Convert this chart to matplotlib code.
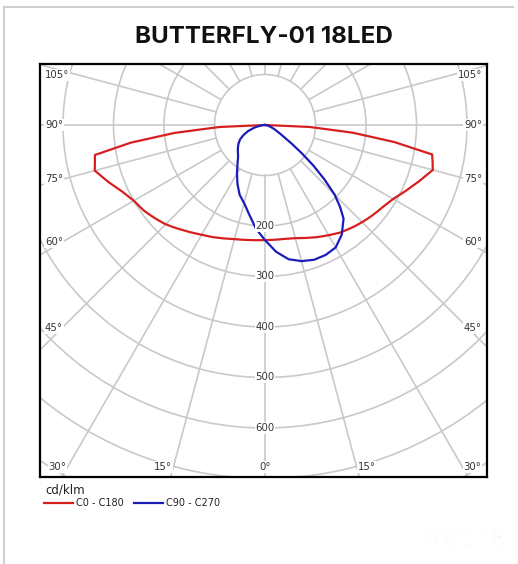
import numpy as np
import matplotlib
matplotlib.use("Agg")
import matplotlib.pyplot as plt
from matplotlib.patches import Circle
from matplotlib.lines import Line2D

# ---------------- data ----------------
title = "BUTTERFLY-01 18LED"
unit_label = "cd/klm"
series_names = ["C0 - C180", "C90 - C270"]
gamma_deg = [0, 5, 10, 15, 20, 25, 30, 35, 40, 42.5, 45, 47.5, 50, 52.5, 55,
             60, 65, 70, 75, 77.5, 80, 82.5, 85, 87.5, 90]
# red plane: C0 (right half) and C180 (left half), cd/klm
c0 = [228, 228, 229, 232, 238, 245, 252, 260, 266, 269, 272, 275, 278, 281, 284,
      293, 308, 325, 344, 340, 336, 258, 174, 88, 0]
c180 = [228, 229, 231, 234, 239, 245, 251, 259, 268, 273, 278, 282, 286, 290, 294,
        300, 312, 330, 349, 345, 342, 268, 180, 90, 0]
# blue plane: C90 (right half) and C270 (left half)
c90 = [228, 252, 270, 279, 284, 284, 280, 265, 242, 220, 195, 160, 125, 92, 65,
       35, 22, 14, 8, 6, 4, 3, 1, 0.5, 0]
c270 = [228, 206, 180, 160, 147, 129, 111, 95, 83, 79, 76, 73, 70, 67, 64,
        57, 47, 36, 24, 18, 12, 8, 5, 2, 0]
ring_values = [100, 200, 300, 400, 500, 600, 700, 800, 900, 1000]
ring_labels = [200, 300, 400, 500, 600]
spoke_angles = list(range(0, 360, 15))
side_angle_labels = [105, 90, 75, 60, 45]
bottom_angle_labels = [30, 15, 0]

# ---------------- layout ----------------
W, H = 518, 564
fig = plt.figure(figsize=(W / 100, H / 100), dpi=100)
fig.patch.set_facecolor("white")

def fx(px):
    return px / W

def fy(py):
    return 1 - py / H

# outer light frame
fig.add_artist(Line2D([fx(4), fx(4)], [fy(7), fy(564)], color="#cfcfcf", lw=1.5))
fig.add_artist(Line2D([fx(4), fx(513)], [fy(7), fy(7)], color="#cfcfcf", lw=1.5))

box_l, box_r, box_t, box_b = 40, 487, 64, 477
cx, cy = 265, 125
S = 0.505  # px per cd/klm
ax = fig.add_axes([fx(box_l), fy(box_b), (box_r - box_l) / W, (box_b - box_t) / H])
ax.set_xlim((box_l - cx) / S, (box_r - cx) / S)
ax.set_ylim(-(box_b - cy) / S, (cy - box_t) / S)
ax.set_xticks([])
ax.set_yticks([])
for sp in ax.spines.values():
    sp.set_color("black")
    sp.set_linewidth(1.6)

grid_c = "#c9c9c9"
for r in ring_values:
    ax.add_patch(Circle((0, 0), r, fill=False, edgecolor=grid_c, lw=1.2, zorder=1))
for a in spoke_angles:
    t = np.deg2rad(a)
    ax.plot([100 * np.sin(t), 1500 * np.sin(t)], [-100 * np.cos(t), -1500 * np.cos(t)],
            color=grid_c, lw=1.2, zorder=1)

g = np.deg2rad(np.array(gamma_deg))

def half_curve(vals_left, vals_right):
    vl = np.array(vals_left, float)
    vr = np.array(vals_right, float)
    xl = -vl * np.sin(g)
    yl = -vl * np.cos(g)
    xr = vr * np.sin(g)
    yr = -vr * np.cos(g)
    x = np.concatenate([xl[::-1], xr[1:]])
    y = np.concatenate([yl[::-1], yr[1:]])
    return x, y

xr_, yr_ = half_curve(c180, c0)
xb_, yb_ = half_curve(c270, c90)
red = "#d81f1f"
blue = "#1c1cb8"
ax.plot(xr_, yr_, color=red, lw=1.6, zorder=3, solid_joinstyle="miter")
ax.plot(xb_, yb_, color=blue, lw=1.6, zorder=3)

lab_kw = dict(fontsize=7.3, color="#333333", family="DejaVu Sans", zorder=4,
              bbox=dict(facecolor="white", edgecolor="none", pad=0.6))

# radial value labels
for v in ring_labels:
    ax.text(0, -v, str(v), ha="center", va="center", **lab_kw)

# side angle labels
x_in_left = (62 - cx) / S
x_in_right = (468 - cx) / S
ymax_lab = (cy - 75) / S
for a in side_angle_labels:
    t = np.deg2rad(a)
    yl = min(-abs(x_in_left) / np.tan(t), ymax_lab) if a != 90 else 0
    yr = min(-abs(x_in_right) / np.tan(t), ymax_lab) if a != 90 else 0
    ax.text((45 - cx) / S, yl, f"{a}°", ha="left", va="center", **lab_kw)
    ax.text((482 - cx) / S, yr, f"{a}°", ha="right", va="center", **lab_kw)

# bottom angle labels
yb = -(467 - cy) / S
for a in bottom_angle_labels:
    t = np.deg2rad(a)
    xx = abs(yb) * np.tan(t)
    if a == 0:
        ax.text(0, yb, "0°", ha="center", va="center", **lab_kw)
    else:
        ax.text(-xx - 2, yb, f"{a}°", ha="right", va="center", **lab_kw)
        ax.text(xx + 2, yb, f"{a}°", ha="left", va="center", **lab_kw)

# title
fig.text(fx(264), fy(43), title, ha="center", va="baseline", fontsize=17.4,
         fontweight="bold", family="Inter", color="#111111")

# legend
fig.text(fx(45), fy(490), unit_label, ha="left", va="center", fontsize=8.5,
         family="DejaVu Sans", color="#222222")
fig.add_artist(Line2D([fx(44), fx(73)], [fy(502.5), fy(502.5)], color=red, lw=1.6))
fig.text(fx(76), fy(502.5), series_names[0], ha="left", va="center", fontsize=7,
         family="DejaVu Sans", color="#222222")
fig.add_artist(Line2D([fx(134), fx(163)], [fy(502.5), fy(502.5)], color=blue, lw=1.6))
fig.text(fx(166), fy(502.5), series_names[1], ha="left", va="center", fontsize=7,
         family="DejaVu Sans", color="#222222")

fig.text(fx(504), fy(545), "0021-18", ha="right", va="baseline", fontsize=15,
         family="Lato", fontweight="light", color="#ebebeb")

fig.savefig("out.png", dpi=100, facecolor="white")
